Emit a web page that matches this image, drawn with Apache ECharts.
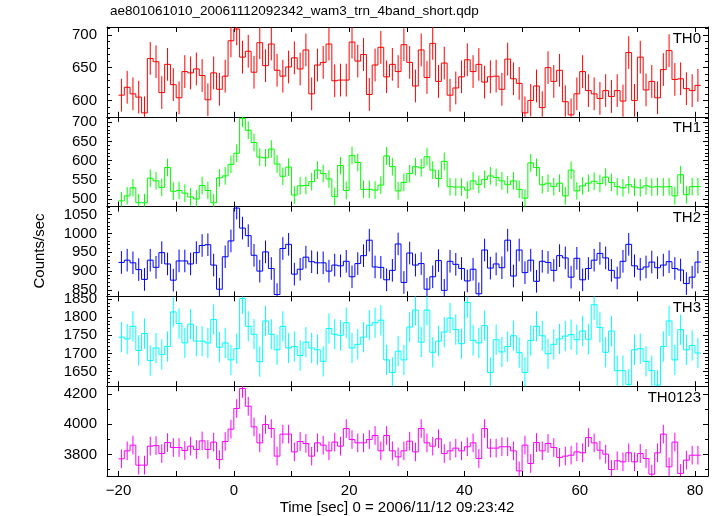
<!DOCTYPE html>
<html><head><meta charset="utf-8">
<script src="https://cdn.jsdelivr.net/npm/echarts@6/dist/echarts.min.js"></script>
<style>html,body{margin:0;padding:0;background:#fff}#c{width:717px;height:516px}</style>
</head><body><div id="c"></div>
<script>
// time bins (seconds since 2006/11/12 09:23:42)
const binStart = -20, binWidth = 1;

// count rates per 1-s bin
const th0 = [608,620,610,605,581,664,659,612,655,624, 604,644,642,648,638,601,642,617,637,691,
  709,666,675,643,688,653,686,646,637,651, 665,648,677,610,654,658,686,630,631,631,
  689,660,670,609,654,681,636,655,644,685, 658,622,677,635,687,629,657,608,619,636,
  662,644,655,628,636,637,617,663,633,626, 581,600,622,589,650,629,646,598,578,610,
  644,615,610,603,615,606,615,599,673,600, 666,616,629,604,647,676,632,633,618,615, 623];
const th1 = [495,508,529,490,490,554,547,530,582,520, 522,515,505,500,535,522,490,555,560,590,
  619,710,679,647,609,607,630,591,559,583, 510,534,535,545,575,566,552,506,587,522,
  613,595,525,525,523,536,612,584,521,543, 566,584,581,610,575,553,598,532,531,531,
  523,547,538,551,560,556,547,537,547,525, 502,594,582,537,541,532,541,508,575,521,
  534,541,546,540,557,543,532,529,537,531, 529,534,531,532,531,532,508,563,511,532, 532];
const th2 = [923,929,922,904,878,929,910,949,919,876, 927,927,919,949,968,970,916,852,938,980,
  1067,1014,994,942,900,951,907,838,960,971, 892,905,937,925,922,922,900,916,914,926,
  885,920,941,982,911,910,877,902,972,870, 948,916,920,852,885,928,849,926,918,907,
  874,905,840,956,908,919,909,982,887,956, 896,929,873,926,923,902,941,935,884,934,
  877,907,929,947,935,902,882,926,971,914, 905,911,924,909,916,925,907,903,867,884, 924];
const th3 = [1745,1740,1775,1708,1755,1680,1715,1697,1719,1815, 1783,1729,1781,1734,1734,1729,1794,1717,1729,1682,
  1713,1852,1775,1753,1677,1790,1753,1710,1775,1715, 1719,1694,1731,1715,1710,1678,1769,1753,1750,1785,
  1715,1725,1745,1778,1785,1792,1682,1647,1706,1682, 1773,1820,1731,1820,1703,1734,1759,1798,1766,1727,
  1841,1736,1729,1777,1647,1738,1704,1719,1749,1702, 1647,1736,1775,1749,1699,1725,1740,1748,1752,1738,
  1762,1739,1835,1772,1703,1762,1652,1652,1614,1710, 1713,1678,1652,1612,1719,1790,1682,1766,1710,1722, 1701];
const th0123 = [3771,3824,3862,3729,3729,3855,3859,3806,3879,3846, 3846,3826,3855,3833,3890,3833,3882,3766,3886,3968,
  4105,4238,4120,3983,3877,3999,3972,3789,3935,3935, 3817,3886,3873,3789,3877,3862,3824,3882,3855,3972,
  3899,3877,3877,3899,3926,3824,3926,3824,3784,3824, 3888,3817,3972,3877,3855,3904,3806,3824,3842,3824,
  3851,3877,3773,3972,3842,3842,3851,3851,3824,3691, 3862,3740,3879,3824,3873,3846,3780,3789,3795,3817,
  3811,3912,3877,3828,3802,3700,3758,3751,3811,3751, 3806,3773,3669,3811,3935,3718,3882,3674,3762,3795, 3795];

// 1-sigma error per bin
const errors = [25, 23, 30, 42, 62];

const panelNames = ['TH0', 'TH1', 'TH2', 'TH3', 'TH0123'];
const panelSeries = [th0, th1, th2, th3, th0123];
const panelColors = ['#ff0000', '#00ff00', '#0000ff', '#00ffff', '#ff00ff'];

// axis limits and tick labels
const xRange = [-22, 82.25];
const xTickLabels = [-20, 0, 20, 40, 60, 80];
const yRanges = [[575, 712], [480, 714], [833, 1071], [1609, 1858], [3657, 4253]];
const yTickLabels = [[600, 650, 700], [500, 550, 600, 650, 700], [850, 900, 950, 1000, 1050],
  [1650, 1700, 1750, 1800, 1850], [3800, 4000, 4200]];
const ySplit = [3, 5, 5, 5, 3];
const yMinorSplit = [5, 5, 5, 5, 2];

const FONT = 'Liberation Sans, Arial, sans-serif';
const left = 107, right = 9, top0 = 27, panelH = 89.8;

const grids = [], xAxes = [], yAxes = [], series = [], graphics = [];
const axLine = { show: true, onZero: false, lineStyle: { color: '#000', width: 1 } };

for (let k = 0; k < 5; k++) {
  const top = top0 + k * panelH;
  grids.push({ left: left, right: right, top: top, height: panelH, containLabel: false });
  const xLabelFmt = v => xTickLabels.includes(v) ? (v < 0 ? '\u2212' + (-v) : String(v)) : '';
  ['bottom', 'top'].forEach(pos => {
    xAxes.push({
      type: 'value', gridIndex: k, position: pos, min: xRange[0], max: xRange[1], splitNumber: 10,
      axisLine: axLine,
      axisTick: { show: true, inside: true, length: 5, lineStyle: { color: '#000', width: 1 } },
      minorTick: { show: false }, splitLine: { show: false },
      axisLabel: { show: (k === 4 && pos === 'bottom'), margin: 7, color: '#000', fontSize: 15,
        fontFamily: FONT, formatter: xLabelFmt }
    });
  });
  const labs = yTickLabels[k];
  ['left', 'right'].forEach(pos => {
    yAxes.push({
      type: 'value', gridIndex: k, position: pos, min: yRanges[k][0], max: yRanges[k][1],
      splitNumber: ySplit[k],
      axisLine: axLine,
      axisTick: { show: true, inside: true, length: 5, lineStyle: { color: '#000', width: 1 } },
      minorTick: { show: true, splitNumber: yMinorSplit[k], length: 3, lineStyle: { color: '#000', width: 1 } },
      splitLine: { show: false },
      axisLabel: { show: pos === 'left', margin: 10, color: '#000', fontSize: 15, fontFamily: FONT,
        formatter: v => labs.includes(v) ? String(v) : '' }
    });
  });

  const vals = panelSeries[k];
  const err = errors[k];
  const data = vals.map((v, i) => [binStart + binWidth * (i + 0.5), v, err, i > 0 ? vals[i - 1] : v]);
  const color = panelColors[k];
  series.push({
    type: 'custom', xAxisIndex: 2 * k, yAxisIndex: 2 * k, clip: true, data: data,
    renderItem: function (params, api) {
      const x = api.value(0), v = api.value(1), e = api.value(2), pv = api.value(3);
      const h = binWidth / 2;
      const pL = api.coord([x - h, v]), pR = api.coord([x + h, v]);
      const pT = api.coord([x, v + e]), pB = api.coord([x, v - e]);
      const pP = api.coord([x - h, pv]);
      const st = { stroke: color, lineWidth: 1, fill: null };
      return {
        type: 'group', children: [
          { type: 'line', shape: { x1: pP[0], y1: pP[1], x2: pL[0], y2: pL[1] }, style: st },
          { type: 'line', shape: { x1: pL[0], y1: pL[1], x2: pR[0], y2: pR[1] }, style: st },
          { type: 'line', shape: { x1: pT[0], y1: pT[1], x2: pB[0], y2: pB[1] }, style: st }
        ]
      };
    }
  });

  graphics.push({
    type: 'text', right: 717 - 701, top: top + 4,
    style: { text: panelNames[k], fill: '#000', font: '15px ' + FONT }
  });
}

graphics.push({ type: 'text', left: 110, top: 4,
  style: { text: 'ae801061010_20061112092342_wam3_trn_4band_short.qdp', fill: '#000', font: '13.5px ' + FONT } });
graphics.push({ type: 'text', x: 40, y: 251, rotation: Math.PI / 2,
  style: { text: 'Counts/sec', fill: '#000', font: '15px ' + FONT, align: 'center', verticalAlign: 'middle' } });
graphics.push({ type: 'text', x: 397, y: 508,
  style: { text: 'Time [sec] 0 = 2006/11/12 09:23:42', fill: '#000', font: '15px ' + FONT, align: 'center', verticalAlign: 'middle' } });

const chart = echarts.init(document.getElementById('c'), null, { renderer: 'canvas' });
chart.setOption({
  animation: false, backgroundColor: '#fff',
  grid: grids, xAxis: xAxes, yAxis: yAxes, series: series, graphic: graphics
});
</script></body></html>
